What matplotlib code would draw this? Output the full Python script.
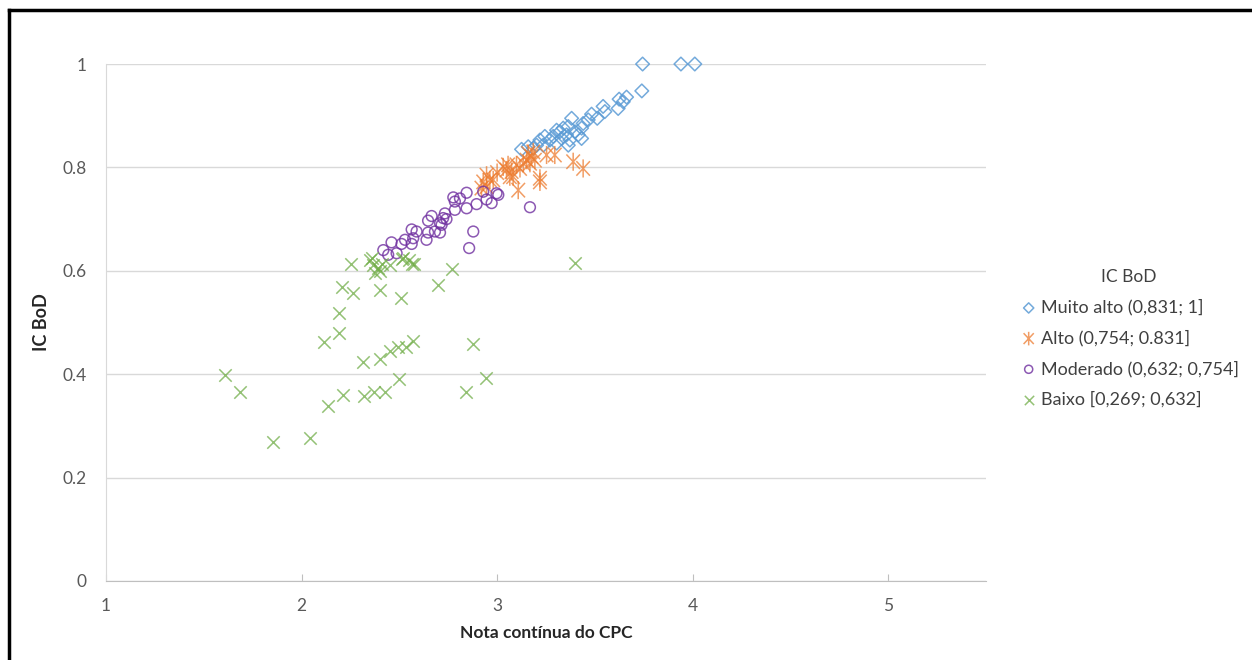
import numpy as np
import matplotlib
matplotlib.use('Agg')
import matplotlib.pyplot as plt
from matplotlib.lines import Line2D
from matplotlib.path import Path

plt.rcParams['font.family'] = ['Lato', 'DejaVu Sans']

# === Data (CPC grade vs IC BoD) ===
muito_alto_x = [3.744, 3.94, 4.011, 3.74, 3.662, 3.624, 3.645, 3.619, 3.542, 3.551,
                3.512, 3.483, 3.466, 3.44, 3.432, 3.381, 3.364, 3.398, 3.415, 3.432,
                3.338, 3.321, 3.304, 3.355, 3.372, 3.364, 3.33, 3.287, 3.27, 3.244,
                3.236, 3.219, 3.202, 3.185, 3.125, 3.159, 3.304]
muito_alto_y = [1.0, 1.0, 1.0, 0.948, 0.936, 0.932, 0.927, 0.914, 0.918, 0.908,
                0.895, 0.903, 0.892, 0.885, 0.876, 0.895, 0.879, 0.869, 0.863, 0.856,
                0.876, 0.869, 0.872, 0.863, 0.853, 0.843, 0.856, 0.860, 0.853, 0.860,
                0.843, 0.853, 0.843, 0.837, 0.835, 0.840, 0.847]

alto_x = [2.946, 2.963, 2.929, 2.98, 2.946, 3.031, 3.048, 3.056, 3.074, 3.082,
          3.099, 3.117, 3.134, 3.151, 3.159, 3.176, 3.185, 3.168, 3.193, 3.108,
          3.219, 3.219, 3.253, 3.295, 3.389, 3.44, 3.065, 2.92, 3.0]
alto_y = [0.785, 0.776, 0.772, 0.776, 0.763, 0.801, 0.795, 0.805, 0.792, 0.782,
          0.805, 0.798, 0.808, 0.814, 0.827, 0.821, 0.830, 0.808, 0.814, 0.756,
          0.779, 0.772, 0.824, 0.824, 0.811, 0.798, 0.782, 0.760, 0.790]

moderado_x = [2.418, 2.443, 2.486, 2.46, 2.511, 2.529, 2.563, 2.571, 2.563, 2.588,
              2.639, 2.647, 2.647, 2.665, 2.682, 2.708, 2.716, 2.724, 2.733, 2.741,
              2.708, 2.784, 2.784, 2.776, 2.81, 2.844, 2.844, 2.895, 2.878, 2.857,
              2.929, 2.946, 2.972, 2.997, 3.006, 3.168]
moderado_y = [0.640, 0.631, 0.634, 0.655, 0.652, 0.660, 0.652, 0.663, 0.680, 0.676,
              0.660, 0.674, 0.697, 0.706, 0.676, 0.674, 0.689, 0.702, 0.711, 0.700,
              0.692, 0.718, 0.734, 0.742, 0.740, 0.751, 0.721, 0.729, 0.676, 0.644,
              0.753, 0.738, 0.731, 0.750, 0.747, 0.723]

baixo_x = [1.608, 1.685, 1.852, 2.043, 2.137, 2.21, 2.319, 2.372, 2.426, 2.498,
           2.84, 2.943, 2.878, 2.316, 2.40, 2.452, 2.491, 2.534, 2.568, 2.115,
           2.193, 2.193, 2.205, 2.261, 2.40, 2.507, 2.696, 2.769, 2.254, 2.358,
           2.367, 2.393, 2.375, 2.452, 2.41, 2.516, 2.575, 2.55, 3.40, 2.35,
           2.40, 2.52, 2.563]
baixo_y = [0.398, 0.366, 0.268, 0.277, 0.338, 0.360, 0.358, 0.366, 0.366, 0.390,
           0.366, 0.392, 0.458, 0.423, 0.429, 0.444, 0.453, 0.453, 0.465, 0.463,
           0.479, 0.518, 0.568, 0.558, 0.563, 0.547, 0.573, 0.603, 0.613, 0.624,
           0.611, 0.605, 0.595, 0.611, 0.614, 0.622, 0.614, 0.620, 0.616, 0.621,
           0.600, 0.624, 0.614]

labels = ['Muito alto (0,831; 1]', 'Alto (0,754; 0.831]',
          'Moderado (0,632; 0,754]', 'Baixo [0,269; 0,632]']
y_ticks = [0, 0.2, 0.4, 0.6, 0.8, 1]
y_tick_labels = ['0', '0.2', '0.4', '0.6', '0.8', '1']
x_ticks = [1, 2, 3, 4, 5]

# Excel-style asterisk: vertical bar plus an X
dx, dy = 0.75, 0.8
asterisk = Path([(0, -1), (0, 1), (-dx, -dy), (dx, dy), (-dx, dy), (dx, -dy)],
                [Path.MOVETO, Path.LINETO, Path.MOVETO, Path.LINETO, Path.MOVETO, Path.LINETO])

# === Figure ===
fig = plt.figure(figsize=(12.52, 6.6), dpi=100)
ax = fig.add_axes([0.0847, 0.1197, 0.7028, 0.7833])

ax.scatter(muito_alto_x, muito_alto_y, marker='D', s=48, facecolors='none',
           edgecolors='#5B9BD5', linewidths=1.1, alpha=0.85, label=labels[0],
           zorder=3, clip_on=False)
ax.scatter(alto_x, alto_y, marker=asterisk, s=170, facecolors='none',
           edgecolors='#ED7D31', linewidths=1.1, alpha=0.75, label=labels[1], zorder=3)
ax.scatter(moderado_x, moderado_y, marker='o', s=60, facecolors='none',
           edgecolors='#7030A0', linewidths=1.1, alpha=0.8, label=labels[2], zorder=3)
ax.scatter(baixo_x, baixo_y, marker='x', s=80, color='#70AD47',
           linewidths=1.1, alpha=0.75, label=labels[3], zorder=3)

ax.set_xlim(1, 5.5)
ax.set_ylim(0, 1)
ax.set_xticks(x_ticks)
ax.set_yticks(y_ticks)
ax.set_yticklabels(y_tick_labels)
ax.grid(axis='y', color='#D9D9D9', linewidth=1)
ax.set_axisbelow(True)

for side in ['top', 'right']:
    ax.spines[side].set_visible(False)
ax.spines['bottom'].set_color('#BFBFBF')
ax.spines['left'].set_color('#D9D9D9')
ax.tick_params(axis='x', direction='in', length=5, color='#BFBFBF',
               labelsize=12.5, labelcolor='#595959', pad=12)
ax.tick_params(axis='y', length=0, labelsize=12.5, labelcolor='#595959', pad=14)

ax.set_xlabel('Nota contínua do CPC', fontsize=12.5, fontweight='bold',
              color='#262626', labelpad=8)
ax.set_ylabel('IC BoD', fontsize=13, fontweight='bold', color='#262626', labelpad=9)

leg = ax.legend(loc='upper left', bbox_to_anchor=(0.800, 0.617), bbox_transform=fig.transFigure,
                frameon=False, title='IC BoD', fontsize=13, title_fontsize=12.5,
                handletextpad=0.1, handlelength=1.2, labelspacing=0.78, markerscale=0.75)
for t in leg.get_texts():
    t.set_color('#404040')
leg.get_title().set_color('#404040')

# black frame edges (top and left) as in the source image
fig.add_artist(Line2D([0.007, 1.0], [0.985, 0.985], color='black', linewidth=2.5))
fig.add_artist(Line2D([0.007, 0.007], [0.0, 0.985], color='black', linewidth=2.5))

fig.savefig('out.png', dpi=100)
